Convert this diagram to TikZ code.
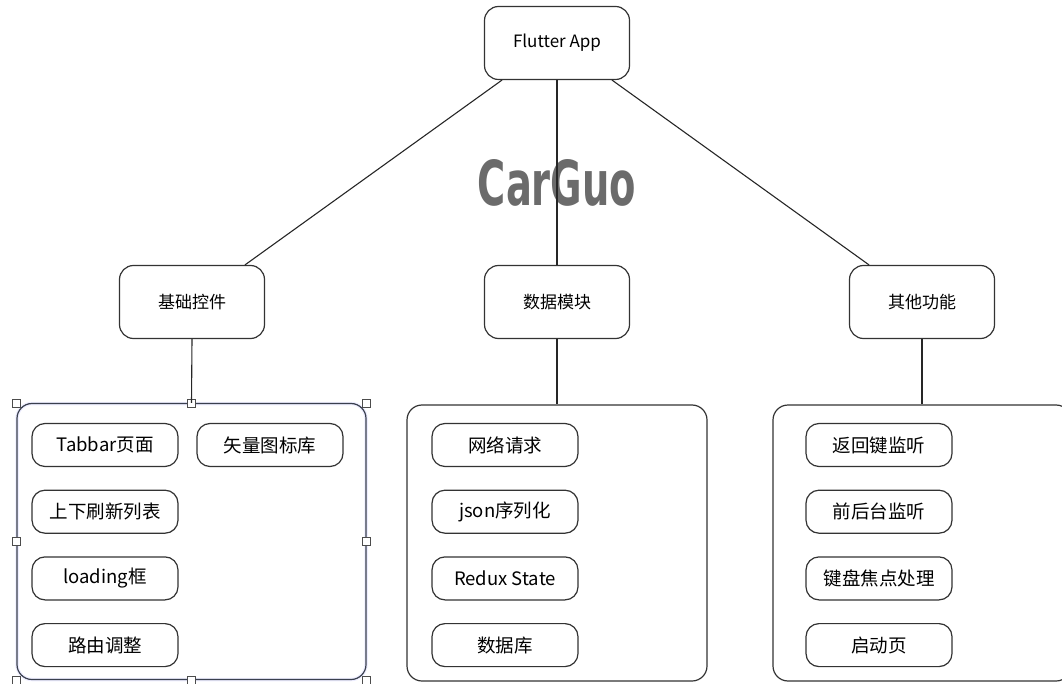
\documentclass[tikz,border=0pt]{standalone}
\usepackage{fontspec}
\setmainfont{Noto Sans CJK SC}
\newfontfamily\markfont{DejaVu Sans}
\usetikzlibrary{calc}
\usetikzlibrary{positioning}
\definecolor{selline}{RGB}{58,64,78}

\begin{document}
\begin{tikzpicture}[x=1pt, y=-1pt,
    top/.style={rectangle, rounded corners=14pt, draw=black!80, line width=1.2pt, minimum width=145pt, minimum height=73pt, font=\fontsize{17}{20}\selectfont},
    item/.style={rectangle, rounded corners=13pt, draw=black!80, line width=1.2pt, minimum width=146pt, minimum height=43pt, font=\fontsize{18.5}{22}\selectfont},
    group/.style={rectangle, rounded corners=15pt, draw=black!80, line width=1.2pt, minimum height=276pt},
    handle/.style={rectangle, draw=black!70, fill=white, line width=0.7pt, minimum size=8pt, inner sep=0pt},
    link/.style={draw=black!85, line width=1.1pt}]
    \useasboundingbox (0,0) rectangle (1062,684);

    % watermark
    \node[text=black!58, font=\markfont\bfseries\fontsize{62}{62}\selectfont] (mark) at (557,183) {\scalebox{0.62}[1]{CarGuo}};

    % top levels
    \node[top] (app) at (557,43) {Flutter App};
    \node[top] (base) at (192,302) {基础控件};
    \node[top] (data) at (557,302) {数据模块};
    \node[top] (other) at (922,302) {其他功能};

    % groups
    \node[group, minimum width=349pt, draw=selline, preaction={draw=blue!7, line width=3.5pt}] (gl) at (191.5,541.5) {};
    \node[group, minimum width=300pt] (gm) at (557,543) {};
    \node[group, minimum width=298pt] (gr) at (922,543) {};
    \foreach \a in {north west, north, north east, east, south east, south, south west, west}
        \node[handle] at (gl.\a) {};

    % items
    \foreach \t[count=\i from 0] in {Tabbar页面, 上下刷新列表, loading框, 路由调整}
        \node[item] (l\i) at (105, 445+66.7*\i) {\t};
    \node[item] (l4) at (270,445) {矢量图标库};
    \foreach \t[count=\i from 0] in {网络请求, json序列化, Redux State, 数据库}
        \node[item] (m\i) at (505, 445+66.7*\i) {\t};
    \foreach \t[count=\i from 0] in {返回键监听, 前后台监听, 键盘焦点处理, 启动页}
        \node[item] (r\i) at (879, 445+66.7*\i) {\t};

    % links
    \draw[link] (app.214) -- (base.35);
    \draw[link] (app.south) -- (data.north);
    \draw[link] (app.326) -- (other.145);
    \draw[link] (base.south) -- (gl.north);
    \draw[link] (data.south) -- (gm.north);
    \draw[link] (other.south) -- (gr.north);
\end{tikzpicture}
\end{document}
